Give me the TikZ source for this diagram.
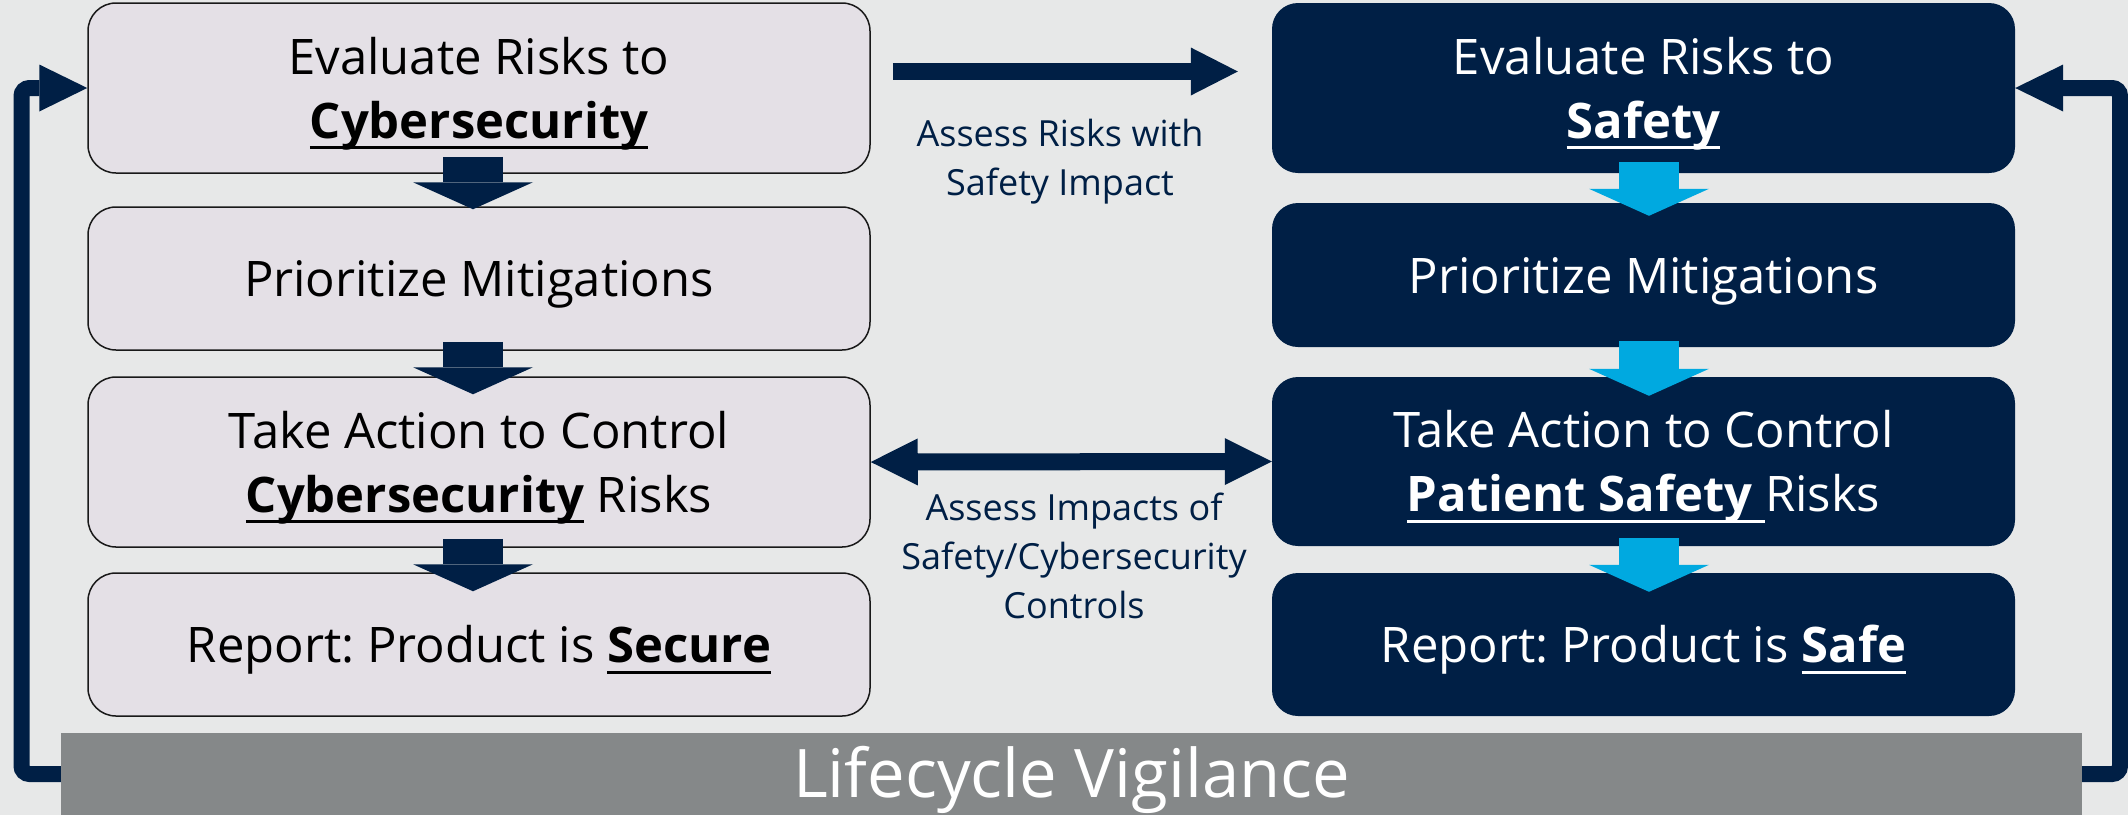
\documentclass[tikz,border=0pt]{standalone}
\usepackage{fontspec}
\setmainfont{Open Sans}
\usetikzlibrary{arrows.meta,calc}
\definecolor{bg}{RGB}{231,232,232}
\definecolor{navy}{RGB}{0,31,69}
\definecolor{lav}{RGB}{228,224,230}
\definecolor{skyb}{RGB}{0,169,224}
\definecolor{bargray}{RGB}{133,136,137}
\frenchspacing
\newcommand\ulx[1]{\setbox0\hbox{#1}\rlap{\rule[-11pt]{\wd0}{3pt}}\box0\relax}
\newcommand\tstrut{\rule{0pt}{48pt}}
\begin{document}
\begin{tikzpicture}[x=1pt,y=-1pt,
  boxtext/.style={inner sep=0pt, align=center, font=\fontsize{49}{64}\selectfont},
  lbox/.style={boxtext, draw=black!90, line width=1.5pt, fill=lav, rounded corners=28pt,
     minimum width=782pt, text=black},
  rbox/.style={boxtext, fill=navy, rounded corners=26pt, minimum width=743pt, text=white},
  darrow/.style={line width=60pt, draw=#1,
     -{Triangle[width=120pt,length=27pt,line width=0pt]}},
  harrow/.style={line width=17pt, draw=navy,
     -{Triangle[width=48pt,length=47pt,line width=0pt]}},
  biarrow/.style={line width=17pt, draw=navy,
     {Triangle[width=47pt,length=47pt,line width=0pt]}-{Triangle[width=47pt,length=47pt,line width=0pt]}},
  looparrow/.style={line width=16pt, draw=navy, rounded corners=8pt,
     -{Triangle[width=47pt,length=48pt,line width=0pt]}},
  midlabel/.style={inner sep=0pt, align=center, text=navy, font=\fontsize{36}{49}\selectfont}
]
\fill[bg] (0,0) rectangle (2128,815);
\useasboundingbox (0,0) rectangle (2128,815);

% left column
\node[lbox, minimum height=170pt] (L1) at (479,88) {\tstrut Evaluate Risks to\\\ulx{\bfseries Cybersecurity}};
\node[lbox, minimum height=143pt] (L2) at (479,278.5) {\tstrut Prioritize Mitigations};
\node[lbox, minimum height=170pt] (L3) at (479,462) {\tstrut Take Action to Control\\\ulx{\bfseries Cybersecurity} Risks};
\node[lbox, minimum height=143pt] (L4) at (479,644.5) {\tstrut Report: Product is \ulx{\bfseries Secure}};

% right column
\node[rbox, minimum height=170pt] (R1) at (1643.5,88) {\tstrut Evaluate Risks to\\\ulx{\bfseries Safety}};
\node[rbox, minimum height=144pt] (R2) at (1643.5,275) {\tstrut Prioritize Mitigations};
\node[rbox, minimum height=169pt] (R3) at (1643.5,461.5) {\tstrut Take Action to Control\\\ulx{\bfseries Patient Safety\ }Risks};
\node[rbox, minimum height=143pt] (R4) at (1643.5,644.5) {\tstrut Report: Product is \ulx{\bfseries Safe}};

% bar
\node[fill=bargray, inner sep=0pt, minimum width=2021pt, minimum height=82pt,
      text=white, font=\fontsize{67}{72}\selectfont, text height=58pt, text depth=12pt]
      (bar) at (1071.5,774) {Lifecycle Vigilance};

% down arrows left
\draw[darrow=navy] ([xshift=-6pt,yshift=17pt]L1.south) -- ([xshift=-6pt,yshift=-3pt]L2.north);
\draw[darrow=navy] ([xshift=-6pt,yshift=9pt]L2.south) -- ([xshift=-6pt,yshift=-18pt]L3.north);
\draw[darrow=navy] ([xshift=-6pt,yshift=9pt]L3.south) -- ([xshift=-6pt,yshift=-19pt]L4.north);
% down arrows right
\draw[darrow=skyb] ([xshift=5.5pt,yshift=11pt]R1.south) -- ([xshift=5.5pt,yshift=-13pt]R2.north);
\draw[darrow=skyb] ([xshift=5.5pt,yshift=6pt]R2.south) -- ([xshift=5.5pt,yshift=-19pt]R3.north);
\draw[darrow=skyb] ([xshift=5.5pt,yshift=8pt]R3.south) -- ([xshift=5.5pt,yshift=-19pt]R4.north);

% horizontal arrows
\draw[harrow] ([xshift=22pt,yshift=16.5pt]L1.east) -- ([xshift=-34pt,yshift=16.5pt]R1.west);
\draw[biarrow] (L3.east) -- (R3.west);

% loops
\coordinate (lc) at (21.5,88);
\coordinate (rc) at (2120,88);
\draw[looparrow] (bar.west) -| (lc) -- (L1.west);
\draw[looparrow] (bar.east) -| (rc) -- (R1.east);

% labels
\node[midlabel, anchor=base] (t1) at (1060,195) {Assess Risks with\\Safety Impact};
\node[midlabel, anchor=base] (t2) at (1074,618) {Assess Impacts of\\Safety/Cybersecurity\\Controls};
\end{tikzpicture}
\end{document}
